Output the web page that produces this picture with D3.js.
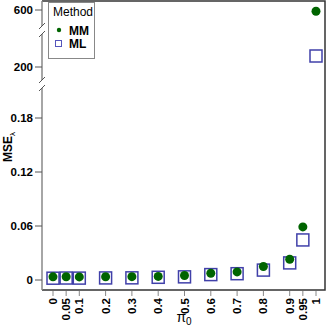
<!DOCTYPE html>
<html>
<head>
<meta charset="utf-8">
<script src="https://cdn.jsdelivr.net/npm/d3@7"></script>
<style>
  body { margin: 0; background: #fff; }
  text { font-family: "Liberation Sans", Arial, sans-serif; }
</style>
</head>
<body>
<svg id="chart" width="327" height="327"></svg>
<script>
// pi0 values and MSE for both methods
var pi0 = [0, 0.05, 0.1, 0.2, 0.3, 0.4, 0.5, 0.6, 0.7, 0.8, 0.9, 0.95, 1]
var mseMM = [0.0035, 0.0036, 0.0034, 0.0036, 0.0037, 0.0040, 0.0050, 0.0075, 0.0090, 0.0150, 0.0230, 0.0590, 597]
var mseML = [0.0020, 0.0022, 0.0021, 0.0023, 0.0024, 0.0030, 0.0035, 0.0060, 0.0070, 0.0110, 0.0190, 0.0445, 250]
var xTicks = ["0", "0.05", "0.1", "0.2", "0.3", "0.4", "0.5", "0.6", "0.7", "0.8", "0.9", "0.95", "1"]
var yTicksLow = [0, 0.06, 0.12, 0.18]
var yTicksMid = [200]
var yTicksTop = [600]

var svg = d3.select("#chart")
var pLeft = 42, pRight = 325, pTop = 1, pBottom = 290

var x = d3.scaleLinear().domain([0, 1]).range([53, 316])

// broken y axis: three pieces stacked
var yLow = d3.scaleLinear().domain([0, 0.2]).range([280, 100])
var yMid = d3.scaleLinear().domain([150, 350]).range([78, 34])
var yTop = d3.scaleLinear().domain([550, 620]).range([30, 2])
function y(v) {
    if (v < 1) return yLow(v)
    if (v < 400) return yMid(v)
    return yTop(v)
}

// frame: top, right, bottom in dark, left axis in gray
svg.append("path")
    .attr("d", "M" + pLeft + "," + pTop + "H" + pRight + "V" + pBottom + "H" + pLeft)
    .attr("fill", "none").attr("stroke", "#333").attr("stroke-width", 1.5)

var breaks = [84, 30]
var gap = 4
var segs = [[pTop, breaks[1] - gap], [breaks[1] + gap, breaks[0] - gap], [breaks[0] + gap, pBottom]]
segs.forEach(function (s) {
    svg.append("line").attr("x1", pLeft).attr("x2", pLeft).attr("y1", s[0]).attr("y2", s[1])
        .attr("stroke", "#888").attr("stroke-width", 1.5)
})
breaks.forEach(function (b) {
    [-gap, gap].forEach(function (o) {
        svg.append("line")
            .attr("x1", pLeft - 3).attr("x2", pLeft + 3)
            .attr("y1", b + o + 3).attr("y2", b + o - 3)
            .attr("stroke", "#555").attr("stroke-width", 1)
    })
})

// y ticks
var yt = yTicksLow.map(function (v) { return { v: v, lab: v === 0 ? "0" : d3.format(".2f")(v) } })
    .concat(yTicksMid.map(function (v) { return { v: v, lab: String(v) } }))
    .concat(yTicksTop.map(function (v) { return { v: v, lab: String(v) } }))
yt.forEach(function (t) {
    svg.append("line").attr("x1", pLeft - 7).attr("x2", pLeft).attr("y1", y(t.v)).attr("y2", y(t.v))
        .attr("stroke", "#555").attr("stroke-width", 1)
    svg.append("text").attr("x", pLeft - 9).attr("y", y(t.v)).attr("dy", "0.35em")
        .attr("text-anchor", "end").attr("font-size", 11.5).attr("font-weight", "bold")
        .text(t.lab)
})

// x ticks
pi0.forEach(function (p, i) {
    svg.append("line").attr("x1", x(p)).attr("x2", x(p)).attr("y1", pBottom + 1).attr("y2", pBottom + 6)
        .attr("stroke", "#888").attr("stroke-width", 1)
    svg.append("text")
        .attr("transform", "translate(" + (x(p) + 4) + "," + (pBottom + 8) + ") rotate(-90)")
        .attr("text-anchor", "end").attr("font-size", 11.5).attr("font-weight", "bold")
        .text(xTicks[i])
})

// axis titles
svg.append("text").attr("x", 184).attr("y", 322).attr("text-anchor", "middle")
    .attr("font-size", 14).attr("font-family", "DejaVu Serif")
    .html('π<tspan font-size="10" dy="3">0</tspan>')
svg.append("text").attr("transform", "translate(12,162) rotate(-90)")
    .attr("font-size", 12).attr("font-weight", "bold")
    .html('MSE<tspan font-size="8" dy="3" font-weight="normal">λ</tspan>')

// points
svg.selectAll(".ml").data(pi0).enter().append("rect")
    .attr("x", function (d) { return x(d) - 6 })
    .attr("y", function (d, i) { return y(mseML[i]) - 6 })
    .attr("width", 12).attr("height", 12)
    .attr("fill", "none").attr("stroke", "#1f1f9a").attr("stroke-width", 1.5).attr("stroke-opacity", 0.85)
svg.selectAll(".mm").data(pi0).enter().append("circle")
    .attr("cx", function (d) { return x(d) })
    .attr("cy", function (d, i) { return y(mseMM[i]) })
    .attr("r", 4.5).attr("fill", "#006400")

// legend
var lg = svg.append("g")
lg.append("rect").attr("x", 48.5).attr("y", 2.5).attr("width", 46).attr("height", 56)
    .attr("fill", "#fff").attr("stroke", "#888").attr("stroke-width", 1)
lg.append("text").attr("x", 53).attr("y", 16).attr("font-size", 12).text("Method")
lg.append("circle").attr("cx", 59).attr("cy", 30).attr("r", 2.2).attr("fill", "#006400")
lg.append("text").attr("x", 69).attr("y", 34.5).attr("font-size", 12).attr("font-weight", "bold").text("MM")
lg.append("rect").attr("x", 55.5).attr("y", 40.5).attr("width", 6).attr("height", 6)
    .attr("fill", "none").attr("stroke", "#5555bb").attr("stroke-width", 1)
lg.append("text").attr("x", 69).attr("y", 48).attr("font-size", 12).attr("font-weight", "bold").text("ML")
</script>
</body>
</html>
